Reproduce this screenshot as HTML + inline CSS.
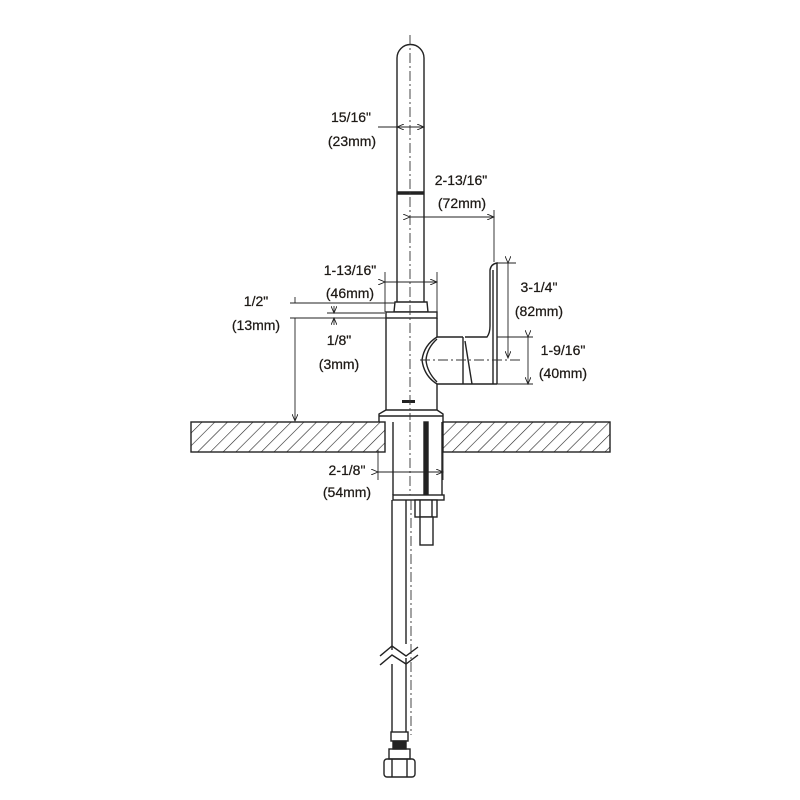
<!DOCTYPE html>
<html><head><style>
html,body{margin:0;padding:0;background:#fff;}
svg{display:block;}
text{font-family:"Liberation Sans",sans-serif;font-size:14px;fill:#1e1a16;text-anchor:middle;stroke:#1e1a16;stroke-width:0.25;}
</style></head><body>
<svg width="800" height="800" viewBox="0 0 800 800" xmlns="http://www.w3.org/2000/svg">
<defs>
<pattern id="h" width="9" height="9" patternUnits="userSpaceOnUse" patternTransform="rotate(45)">
<line x1="0" y1="0" x2="0" y2="9" stroke="#222" stroke-width="1.2"/>
</pattern>
<marker id="a" markerWidth="8" markerHeight="6" refX="7" refY="3" orient="auto" markerUnits="userSpaceOnUse"><path d="M0,0 L7,3 L0,6" fill="none" stroke="#222" stroke-width="0.9"/></marker>
</defs>
<g stroke="#222" stroke-width="1.4" fill="none">
<rect x="191" y="422" width="194" height="30" fill="url(#h)"/>
<rect x="443" y="422" width="167" height="30" fill="url(#h)"/>
<path d="M397,302 L397,58 A13.5,13.5 0 0 1 424,58 L424,302" fill="#fff"/>
<line x1="397" y1="193" x2="424" y2="193" stroke-width="3.5"/>
<path d="M395,302 L427,302 L428,312 L394,312 Z" fill="#fff"/>
<rect x="386" y="312" width="51" height="6" fill="#fff"/>
<line x1="386" y1="318" x2="386" y2="410"/>
<line x1="437" y1="318" x2="437" y2="337"/>
<line x1="437" y1="384" x2="437" y2="410"/>
<path d="M379,422 L379,414 L386,410 L437,410 L443,414 L443,422"/>
<line x1="379" y1="416" x2="443" y2="416"/>
<rect x="402" y="400" width="13" height="3" fill="#222" stroke="none"/>
<path d="M437,337 Q424,345 422,360 Q424,376 437,384"/>
<path d="M437,339 Q427,348 426,360 Q427,372 437,382"/>
<line x1="437" y1="337" x2="463" y2="337"/>
<line x1="437" y1="384" x2="497" y2="384"/>
<line x1="463" y1="337" x2="463" y2="384"/>
<path d="M465,337 L487,337 Q490,333 490,326 L490,270 Q491,264 497,263 L497,384"/>
<path d="M465,341 L472,384"/>
<path d="M493,270 L493,384"/>
<line x1="393" y1="422" x2="393" y2="495"/>
<line x1="442" y1="422" x2="442" y2="495"/>
<rect x="424" y="422" width="4" height="73" fill="#222"/>
<rect x="393" y="495" width="51" height="5" fill="#fff"/>
<rect x="415" y="500" width="22" height="17" fill="#fff"/>
<line x1="420" y1="500" x2="420" y2="517"/><line x1="432" y1="500" x2="432" y2="517"/>
<rect x="420" y="517" width="13" height="28" fill="#fff"/>
<line x1="392" y1="500" x2="392" y2="650"/>
<line x1="406" y1="500" x2="406" y2="644"/>
<line x1="392" y1="664" x2="392" y2="732"/>
<line x1="406" y1="658" x2="406" y2="732"/>
<path d="M380,656 L392,646 L406,656 L418,647"/>
<path d="M380,665 L392,655 L406,664 L418,655"/>
<rect x="391" y="732" width="17" height="9"/>
<rect x="393" y="741" width="13" height="8" fill="#222"/>
<rect x="389" y="749" width="21" height="10"/>
<rect x="384" y="759" width="31" height="18" rx="3"/>
<line x1="392" y1="759" x2="392" y2="777"/><line x1="407" y1="759" x2="407" y2="777"/>
</g>
<g stroke="#333" stroke-width="0.9" fill="none" stroke-dasharray="10,3,2,3">
<line x1="410" y1="35" x2="410" y2="420"/>
<line x1="410" y1="422" x2="410" y2="495"/>
<line x1="411" y1="500" x2="411" y2="735"/>
<line x1="420" y1="360" x2="520" y2="360"/>
</g>
<g stroke="#222" stroke-width="0.9" fill="none">
<line x1="378" y1="127" x2="424" y2="127"/>
<line x1="411" y1="127" x2="397" y2="127" marker-end="url(#a)"/>
<line x1="411" y1="127" x2="424" y2="127" marker-end="url(#a)"/>
<line x1="410" y1="217" x2="494" y2="217" marker-start="url(#a)" marker-end="url(#a)"/>
<line x1="494" y1="210" x2="494" y2="262"/>
<line x1="385" y1="272" x2="385" y2="312"/><line x1="437" y1="272" x2="437" y2="312"/>
<line x1="385" y1="282" x2="437" y2="282" marker-start="url(#a)" marker-end="url(#a)"/>
<line x1="290" y1="303" x2="395" y2="303"/>
<line x1="327" y1="313" x2="385" y2="313"/>
<line x1="290" y1="318" x2="386" y2="318"/>
<line x1="295" y1="297" x2="295" y2="303" />
<line x1="295" y1="318" x2="295" y2="421" marker-end="url(#a)"/>
<line x1="334" y1="306" x2="334" y2="313" marker-end="url(#a)"/>
<line x1="334" y1="325" x2="334" y2="318" marker-end="url(#a)"/>
<line x1="497" y1="263" x2="516" y2="263"/>
<line x1="508" y1="263" x2="508" y2="358" marker-start="url(#a)" marker-end="url(#a)"/>
<line x1="497" y1="337" x2="533" y2="337"/>
<line x1="528" y1="337" x2="528" y2="384" marker-start="url(#a)" marker-end="url(#a)"/>
<line x1="497" y1="384" x2="533" y2="384"/>
<line x1="378" y1="450" x2="378" y2="480"/><line x1="443" y1="450" x2="443" y2="480"/>
<line x1="378" y1="472" x2="443" y2="472" marker-start="url(#a)" marker-end="url(#a)"/>
</g>
<text x="351" y="122">15/16"</text><text x="352" y="146">(23mm)</text>
<text x="461" y="185">2-13/16"</text><text x="462" y="208">(72mm)</text>
<text x="350" y="275">1-13/16"</text><text x="350" y="298">(46mm)</text>
<text x="256" y="306">1/2"</text><text x="256" y="330">(13mm)</text>
<text x="339" y="345">1/8"</text><text x="339" y="369">(3mm)</text>
<text x="539" y="292">3-1/4"</text><text x="539" y="316">(82mm)</text>
<text x="563" y="355">1-9/16"</text><text x="563" y="378">(40mm)</text>
<text x="347" y="475">2-1/8"</text><text x="347" y="497">(54mm)</text>
</svg>
</body></html>
